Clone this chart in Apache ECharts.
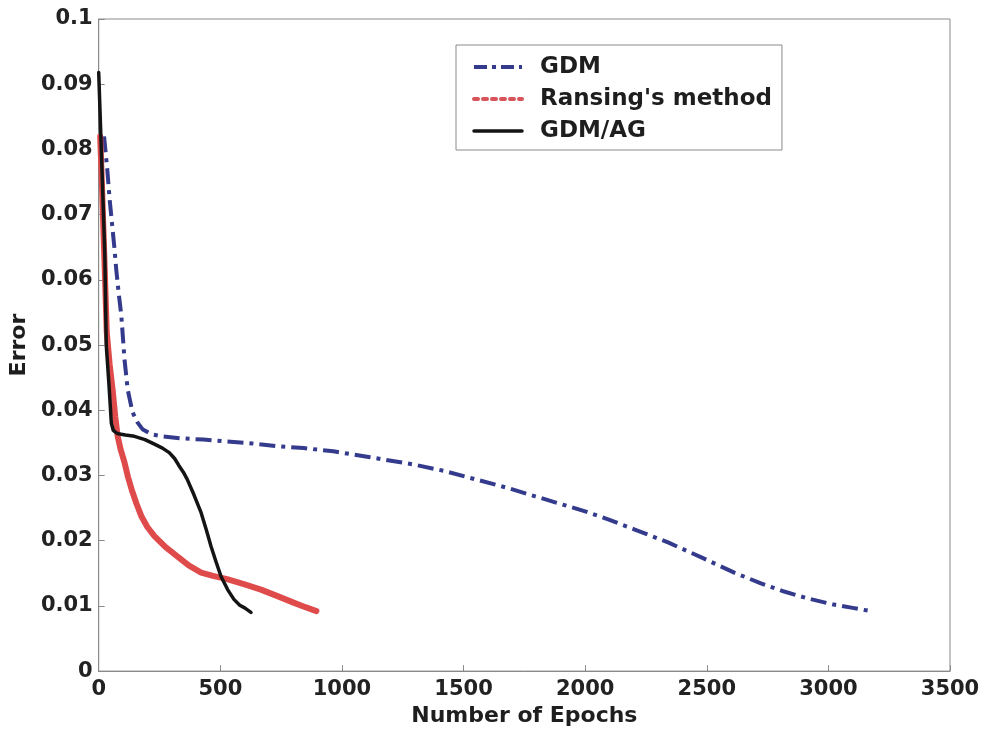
<!DOCTYPE html>
<html>
<head>
<meta charset="utf-8">
<style>
  html, body { margin: 0; padding: 0; background: #ffffff; }
  #chart { width: 984px; height: 732px; }
</style>
<script src="https://cdn.jsdelivr.net/npm/echarts@6/dist/echarts.min.js"></script>
</head>
<body>
<div id="chart"></div>
<script>
// Training error against epochs for three training schemes
const seriesNames = ['GDM', "Ransing's method", 'GDM/AG'];

const gdmEpochs = [22, 35, 45, 55, 65, 72, 82, 93, 106, 119, 139, 160, 180, 217, 262, 339, 430, 528, 632, 732, 842, 965, 1116, 1292, 1420, 1550, 1680, 1795, 2000, 2100, 2204, 2343, 2480, 2613, 2720, 2818, 2920, 3022, 3100, 3173];
const gdmError  = [0.0820, 0.0770, 0.0723, 0.0685, 0.0647, 0.0616, 0.0580, 0.0545, 0.0478, 0.0432, 0.0397, 0.0381, 0.0371, 0.0363, 0.0360, 0.0357, 0.0355, 0.0352, 0.0349, 0.0345, 0.0342, 0.0337, 0.0328, 0.0317, 0.0307, 0.0294, 0.0281, 0.0268, 0.0245, 0.0232, 0.0217, 0.0197, 0.0174, 0.0151, 0.0135, 0.0122, 0.0111, 0.0102, 0.0097, 0.0092];

const ransingEpochs = [6, 12, 20, 27, 33, 45, 57, 68, 78, 90, 106, 120, 135, 155, 176, 200, 229, 275, 323, 370, 421, 470, 528, 600, 667, 735, 801, 850, 895];
const ransingError  = [0.082, 0.076, 0.067, 0.059, 0.052, 0.047, 0.0432, 0.039, 0.036, 0.034, 0.032, 0.0298, 0.0279, 0.0257, 0.0237, 0.0221, 0.0207, 0.0190, 0.0176, 0.0162, 0.0151, 0.0146, 0.0141, 0.0133, 0.0125, 0.0115, 0.0105, 0.0098, 0.0092];

const agEpochs = [0, 8, 16, 25, 31, 42, 52, 60, 70, 80, 110, 147, 190, 229, 262, 290, 312, 330, 348, 364, 392, 421, 442, 462, 483, 503, 530, 556, 580, 600, 626];
const agError  = [0.0918, 0.083, 0.074, 0.064, 0.050, 0.044, 0.038, 0.0369, 0.0366, 0.0364, 0.0362, 0.0360, 0.0355, 0.0348, 0.0342, 0.0335, 0.0326, 0.0315, 0.0305, 0.0294, 0.0270, 0.0243, 0.0217, 0.0191, 0.0167, 0.0145, 0.0125, 0.0110, 0.0101, 0.0097, 0.0090];

const xTicks = { min: 0, max: 3500, step: 500 };
const yTicks = { min: 0, max: 0.1, step: 0.01 };

function pairs(xs, ys) { return xs.map((x, i) => [x, ys[i]]); }

const FONT = 'DejaVu Sans';
const BLUE = '#343b8c', RED = '#df4b4b', BLACK = '#141414';
const chart = echarts.init(document.getElementById('chart'), null, { renderer: 'canvas' });

chart.setOption({
  backgroundColor: '#ffffff',
  animation: false,
  grid: {
    left: 94, top: 19, right: 34, bottom: 60,
    show: true, borderColor: '#8a8a8a', borderWidth: 1, backgroundColor: 'transparent'
  },
  legend: {
    orient: 'vertical',
    left: 456, top: 45,
    padding: [7, 10, 4, 16],
    backgroundColor: '#ffffff',
    borderColor: '#8a8a8a', borderWidth: 1, borderRadius: 0,
    itemWidth: 48, itemHeight: 14, itemGap: 2,
    itemStyle: { color: 'transparent', borderColor: 'transparent', borderWidth: 0, opacity: 0 },
    textStyle: {
      fontFamily: FONT, fontWeight: 'bold', fontSize: 23, color: '#1e1e1e',
      lineHeight: 30, padding: [0, 0, 0, 13]
    },
    data: [
      { name: seriesNames[0], lineStyle: { type: [13, 5, 4, 5], width: 4, color: BLUE } },
      { name: seriesNames[1], lineStyle: { type: [4, 5], width: 4, color: '#d9535a' } },
      { name: seriesNames[2], lineStyle: { type: 'solid', width: 3.5, color: BLACK } }
    ]
  },
  xAxis: {
    type: 'value',
    min: xTicks.min, max: xTicks.max, interval: xTicks.step,
    name: 'Number of Epochs', nameLocation: 'middle', nameGap: 31,
    nameTextStyle: { fontFamily: FONT, fontWeight: 'bold', fontSize: 22, color: '#1e1e1e' },
    axisLine: { show: true, lineStyle: { color: '#8a8a8a', width: 1 } },
    axisTick: { show: true, inside: true, length: 6, lineStyle: { color: '#8a8a8a' } },
    axisLabel: {
      fontFamily: FONT, fontWeight: 'bold', fontSize: 21, color: '#222', margin: 8,
      formatter: v => String(v)
    },
    splitLine: { show: false }
  },
  yAxis: {
    type: 'value',
    min: yTicks.min, max: yTicks.max, interval: yTicks.step,
    name: 'Error', nameLocation: 'middle', nameGap: 61,
    nameTextStyle: { fontFamily: FONT, fontWeight: 'bold', fontSize: 22, color: '#1e1e1e' },
    axisLine: { show: true, lineStyle: { color: '#8a8a8a', width: 1 } },
    axisTick: { show: true, inside: true, length: 6, lineStyle: { color: '#8a8a8a' } },
    axisLabel: {
      fontFamily: FONT, fontWeight: 'bold', fontSize: 21, color: '#222', margin: 6,
      formatter: v => (v === 0 ? '0' : (Math.abs(v - 0.1) < 1e-9 ? '0.1' : v.toFixed(2)))
    },
    splitLine: { show: false }
  },
  series: [
    {
      name: seriesNames[0], type: 'line', data: pairs(gdmEpochs, gdmError),
      showSymbol: false, symbol: 'none', smooth: false, z: 2,
      lineStyle: { color: BLUE, width: 4, type: [16, 6, 4, 6], join: 'round' },
      itemStyle: { color: BLUE }
    },
    {
      name: seriesNames[1], type: 'line', data: pairs(ransingEpochs, ransingError),
      showSymbol: false, symbol: 'none', smooth: false, z: 3,
      lineStyle: { color: RED, width: 6, cap: 'round', join: 'round' },
      itemStyle: { color: '#d9535a' }
    },
    {
      name: seriesNames[2], type: 'line', data: pairs(agEpochs, agError),
      showSymbol: false, symbol: 'none', smooth: false, z: 4,
      lineStyle: { color: BLACK, width: 3.5, cap: 'round', join: 'round' },
      itemStyle: { color: BLACK }
    }
  ]
});
</script>
</body>
</html>
